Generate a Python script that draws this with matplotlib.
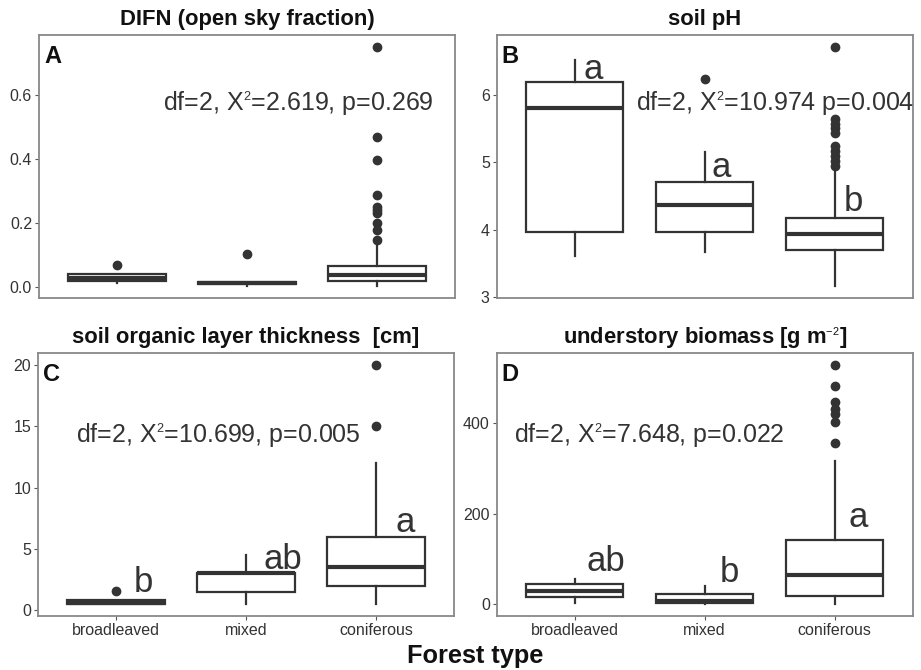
import matplotlib
matplotlib.use("Agg")
import matplotlib.pyplot as plt
try:
    import matplotlib._mathtext as _mt
    _mt.SHRINK_FACTOR = 0.5
except Exception:
    pass

plt.rcParams['font.family'] = ['Liberation Sans', 'DejaVu Sans']
plt.rcParams['mathtext.fontset'] = 'custom'
plt.rcParams['mathtext.rm'] = 'Liberation Sans'
plt.rcParams['mathtext.it'] = 'Liberation Sans:italic'
plt.rcParams['mathtext.bf'] = 'Liberation Sans:bold'

categories = ["broadleaved", "mixed", "coniferous"]

# Panel A: DIFN  (whislo, q1, med, q3, whishi, fliers)
difn_stats = [
    (0.012, 0.020, 0.027, 0.040, 0.040, [0.069]),
    (0.004, 0.008, 0.012, 0.017, 0.017, [0.104]),
    (0.003, 0.019, 0.037, 0.067, 0.140,
     [0.147, 0.178, 0.202, 0.231, 0.241, 0.251, 0.288, 0.397, 0.470, 0.752]),
]
# Panel B: soil pH
ph_stats = [
    (3.61, 3.97, 5.81, 6.20, 6.53, []),
    (3.66, 3.97, 4.36, 4.71, 5.16, [6.25]),
    (3.16, 3.69, 3.93, 4.18, 4.86,
     [4.95, 5.02, 5.10, 5.17, 5.24, 5.44, 5.52, 5.58, 5.64, 6.72]),
]
# Panel C: soil organic layer thickness
olt_stats = [
    (0.5, 0.5, 0.55, 0.8, 0.8, [1.55]),
    (0.5, 1.5, 3.0, 3.05, 4.5, []),
    (0.5, 2.0, 3.5, 6.0, 12.0, [15.0, 20.0]),
]
# Panel D: understory biomass
bio_stats = [
    (2.0, 16.0, 30.0, 44.0, 55.0, []),
    (0.7, 3.5, 8.0, 24.0, 40.0, []),
    (0.7, 18.0, 64.0, 143.0, 317.0, [356, 404, 420, 432, 448, 482, 529]),
]

titles = ["DIFN (open sky fraction)", "soil pH",
          "soil organic layer thickness  [cm]",
          "understory biomass [g m$^{-2}$]"]
tags = ["A", "B", "C", "D"]
stat_texts = ["df=2, X$^{2}$=2.619, p=0.269",
              "df=2, X$^{2}$=10.974 p=0.004",
              "df=2, X$^{2}$=10.699, p=0.005",
              "df=2, X$^{2}$=7.648, p=0.022"]
stat_pos = [(1.396, 0.554), (1.545, 5.78), (0.789, 13.69), (0.57, 359.5)]
letters = [
    [],
    [("a", 0.066, 6.25), ("a", 1.054, 4.79), ("b", 2.066, 4.27)],
    [("b", 0.135, 1.52), ("ab", 1.135, 3.39), ("a", 2.148, 6.4)],
    [("ab", 0.087, 74.4), ("b", 1.112, 50.1), ("a", 2.105, 171.6)],
]
yticks = [[0.0, 0.2, 0.4, 0.6], [3, 4, 5, 6], [0, 5, 10, 15, 20], [0, 200, 400]]
yticklabels = [["0.0", "0.2", "0.4", "0.6"], ["3", "4", "5", "6"],
               ["0", "5", "10", "15", "20"], ["0", "200", "400"]]

all_stats = [difn_stats, ph_stats, olt_stats, bio_stats]

fig = plt.figure(figsize=(9.21, 6.70), dpi=100)
W = 416 / 921
H = 263 / 670
positions = [(39 / 921, 1 - 298 / 670), (496.7 / 921, 1 - 298 / 670),
             (38 / 921, 1 - 616 / 670), (496.7 / 921, 1 - 616 / 670)]

dark = "#333333"
for i in range(4):
    ax = fig.add_axes([positions[i][0], positions[i][1], W, H])
    stats = []
    for j, (wl, q1, med, q3, wh, fl) in enumerate(all_stats[i]):
        stats.append(dict(whislo=wl, q1=q1, med=med, q3=q3, whishi=wh,
                          fliers=fl, label=categories[j]))
    ax.bxp(stats, positions=[0, 1, 2], widths=0.75, patch_artist=True,
           showcaps=False,
           boxprops=dict(facecolor="white", edgecolor=dark, linewidth=1.6),
           whiskerprops=dict(color=dark, linewidth=1.6),
           medianprops=dict(color=dark, linewidth=3.0, solid_capstyle="butt"),
           flierprops=dict(marker="o", markerfacecolor=dark,
                           markeredgecolor=dark, markersize=6))
    # ggplot-like limits
    vals = []
    for s in all_stats[i]:
        vals += [s[0], s[4]] + list(s[5])
    lo, hi = min(vals), max(vals)
    pad = 0.05 * (hi - lo)
    ax.set_ylim(lo - pad, hi + pad)
    ax.set_xlim(-0.6, 2.6)
    ax.set_yticks(yticks[i])
    ax.set_yticklabels(yticklabels[i])
    ax.tick_params(axis="y", labelsize=11.5, colors="#333333", length=3,
                   width=0.8, pad=2)
    ax.tick_params(axis="y", color="#555555")
    if i >= 2:
        ax.set_xticks([0, 1, 2])
        ax.set_xticklabels(categories)
        ax.tick_params(axis="x", labelsize=11.5, colors="#333333", length=3,
                       width=0.8, pad=2)
        ax.tick_params(axis="x", color="#555555")
    else:
        ax.set_xticks([])
    for sp in ax.spines.values():
        sp.set_color("#888888")
        sp.set_linewidth(1.3)
    ax.set_title(titles[i], fontsize=15.8, fontweight="bold", pad=7,
                 color="#111111")
    ax.text(0.012, 0.895, tags[i], transform=ax.transAxes, fontsize=17,
            fontweight="bold", va="baseline", ha="left", color="#111111")
    ax.text(stat_pos[i][0], stat_pos[i][1], stat_texts[i], fontsize=18,
            ha="center", va="baseline", color="#333333")
    for (lab, x, y) in letters[i]:
        ax.text(x, y, lab, fontsize=25, ha="left", va="baseline",
                color="#333333")

fig.text(475 / 921, 1 - 663 / 670, "Forest type", fontsize=18.3,
         fontweight="bold", ha="center", va="baseline", color="#111111")

fig.savefig("out.png", dpi=100)
